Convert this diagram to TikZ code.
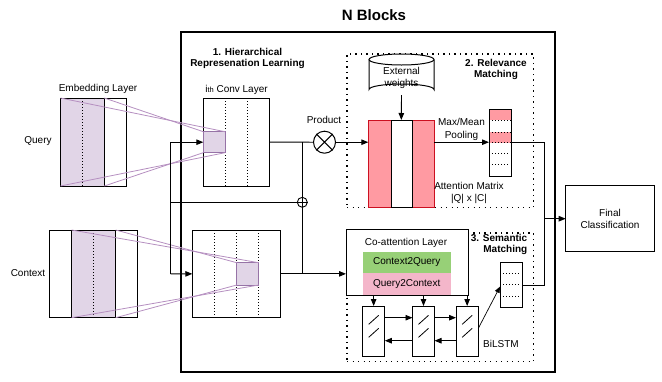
\documentclass[tikz,border=0pt]{standalone}
\usepackage{fontspec}
\setmainfont{Liberation Sans}
\usetikzlibrary{arrows.meta,calc}
\definecolor{purp}{HTML}{E1D5E7}
\definecolor{purpline}{HTML}{B58FC0}
\definecolor{purpdark}{HTML}{9673A6}
\definecolor{redfill}{HTML}{FF9AA2}
\definecolor{redline}{HTML}{CC1020}
\definecolor{greenfill}{HTML}{97D077}
\definecolor{pinkfill}{HTML}{F4B6CA}
\begin{document}
\begin{tikzpicture}[x=1pt,y=-1pt,
  lbl/.style={font=\fontsize{10}{12.5}\selectfont, inner sep=0, align=center},
  bl/.style={font=\bfseries\fontsize{10}{11.5}\selectfont, inner sep=0, align=center},
  rect/.style={anchor=north west, inner sep=0, outer sep=0},
  solid box/.style={rect, draw, line width=1pt},
  arr/.style={-{Triangle[length=7pt,width=5.5pt]}, line width=0.9pt},
  thin arr/.style={-{Triangle[length=6pt,width=5pt]}, line width=0.7pt},
  conn/.style={line width=0.9pt},
  bigdots/.style={line width=1.2pt, dash pattern=on 1.3pt off 4.2pt},
  finedots/.style={line width=0.8pt, dash pattern=on 1pt off 2pt},
  projline/.style={purpline, line width=0.8pt},
  cellstroke/.style={line width=0.8pt}]
\useasboundingbox (0,0) rectangle (662,381);

% title
\node[font=\bfseries\fontsize{15}{17}\selectfont, inner sep=0] (title) at (374,15) {N Blocks};

% big N-blocks box
\node[solid box, line width=1.2pt, minimum width=374pt, minimum height=340pt] (nblk) at (181,32) {};

% ---------- embedding layers ----------
\node[lbl] (emblbl) at (98,89) {Embedding Layer};
\node[rect, fill=purp, minimum width=43.8pt, minimum height=88pt] (qshade) at (60.5,98) {};
\node[solid box, minimum width=66pt, minimum height=88pt] (qemb) at (60.5,98) {};
\draw[line width=1pt] (104.3,98) -- (104.3,186);
\draw[finedots] (82.7,98) -- (82.7,186);
\node[lbl] (qlbl) at (38,141) {Query};

\node[rect, fill=purp, minimum width=44pt, minimum height=87.7pt] (cshade) at (71.7,230) {};
\node[solid box, minimum width=88pt, minimum height=87.7pt] (cemb) at (49.3,230) {};
\draw[line width=1pt] (71.7,230) -- (71.7,317.7);
\draw[line width=1pt] (115.7,230) -- (115.7,317.7);
\draw[finedots] (93.3,230) -- (93.3,317.7);
\node[lbl] (clbl) at (28,273) {Context};

% ---------- conv layers ----------
\node[bl] (hrl) at (247.5,58.5) {1. Hierarchical\\Represenation Learning};
\node[lbl] (convlbl) at (236.5,90) {i{\fontsize{7.5}{8}\selectfont th} Conv Layer};
\node[solid box, minimum width=66pt, minimum height=87.7pt] (qconv) at (203.3,98.3) {};
\draw[finedots] (225,98.3) -- (225,186);
\draw[finedots] (247.3,98.3) -- (247.3,186);
\node[rect, fill=purp, draw=purpdark, line width=0.8pt, minimum width=21.7pt, minimum height=21pt] (qsq) at (203.3,131.7) {};

\node[solid box, minimum width=88.4pt, minimum height=87.7pt] (cconv) at (192.3,230) {};
\draw[finedots] (214.3,230) -- (214.3,317.7);
\draw[finedots] (236.7,230) -- (236.7,317.7);
\draw[finedots] (258.7,230) -- (258.7,317.7);
\node[rect, fill=purp, draw=purpdark, line width=0.8pt, minimum width=22pt, minimum height=22.3pt] (csq) at (236.7,262.7) {};

% projection lines
\draw[projline] (qshade.north west) -- (qsq.north east);
\draw[projline] (qshade.north east) -- (qsq.north west);
\draw[projline] (qshade.south west) -- (qsq.south east);
\draw[projline] (qshade.south east) -- (qsq.south west);
\draw[projline] (cshade.north west) -- (csq.north east);
\draw[projline] (cshade.north east) -- (csq.north west);
\draw[projline] (cshade.south west) -- (csq.south east);
\draw[projline] (cshade.south east) -- (csq.south west);

% ---------- residual / product connectors ----------
\coordinate (lt) at (170.7,142.2);
\coordinate (lb) at (170.7,273.9);
\node[circle, draw, line width=0.9pt, minimum size=10pt, inner sep=0] (plus) at (302.3,202.3) {};
\draw[line width=0.9pt] (plus.north) -- (plus.south) (plus.west) -- (plus.east);
\node[circle, draw, line width=1pt, minimum size=22pt, inner sep=0] (otimes) at (324.5,142.2) {};
\draw[line width=1pt] (otimes.north west) -- (otimes.south east) (otimes.north east) -- (otimes.south west);
\node[lbl] (prodlbl) at (324,119.5) {Product};

\draw[conn] (lt) -- (lb);
\draw[arr] (lt) -- (qsq.west);
\draw[arr] (lb) -- (cconv.west);
\draw[conn] (lt |- plus) -- (plus.west);
\draw[conn] (qconv.east) -- (otimes.west);
\draw[conn] (qconv.east -| plus) -- (plus.north);
\draw[conn] (plus.south) -- (cconv.east -| plus);

% ---------- relevance matching ----------
\node[rect, draw, bigdots, minimum width=186.5pt, minimum height=153.7pt] (rel) at (347,54) {};
\node[bl] (rellbl) at (496,69.5) {2. Relevance\\Matching};
% cylinder
\draw[line width=1pt, fill=white] (369,59.5) -- (369,89.5) arc[start angle=180, end angle=360, x radius=32.5pt, y radius=-5.5pt] -- (434,59.5);
\draw[line width=1pt, fill=white] (401.5,59.5) ellipse[x radius=32.5pt, y radius=5.5pt];
\node[lbl] (ext) at (401.5,78) {External\\weights};
\coordinate (extb) at (401.5,95);

\node[rect, fill=redfill, minimum width=66pt, minimum height=87.7pt] (mat) at (368.3,120) {};
\fill[white] (391,120) rectangle (412,207.7);
\draw[redline, line width=1pt] (mat.north west) rectangle (mat.south east);
\draw[black, line width=1pt] (391,120) -- (391,207.7) (412,120) -- (412,207.7) (391,120) -- (412,120) (391,207.7) -- (412,207.7);
\draw[arr] (extb) -- (mat.north);
\draw[arr] (otimes.east) -- (mat.west |- otimes);
\node[lbl] (attlbl) at (469,193) {Attention Matrix\\|Q| x |C|};

\node[rect, minimum width=22.7pt, minimum height=67pt] (pool) at (489,109) {};
\fill[redfill] (489,109) rectangle (511.7,120.3);
\fill[redfill] (489,132) rectangle (511.7,142.7);
\draw[finedots, line width=0.6pt] (489,120.3) -- (511.7,120.3) (489,132) -- (511.7,132) (489,142.7) -- (511.7,142.7);
\draw[finedots, line width=0.6pt] (492,153.3) -- (508.5,153.3) (492,164.3) -- (508.5,164.3);
\draw[line width=1pt] (pool.north west) rectangle (pool.south east);
\node[lbl] (poollbl) at (461.5,129.5) {Max/Mean\\Pooling};
\draw[arr] (mat.east |- otimes) -- (pool.west |- otimes);

% ---------- semantic matching ----------
\node[rect, draw, bigdots, minimum width=186.5pt, minimum height=128.7pt] (sem) at (347,233) {};
\node[bl, align=right, anchor=north east] (semlbl) at (527.5,234) {3. Semantic\\Matching};
\node[solid box, fill=white, minimum width=122.3pt, minimum height=66pt] (coatt) at (346,229) {};
\node[lbl] (coattlbl) at (406,243.3) {Co-attention Layer};
\node[rect, fill=greenfill, minimum width=88pt, minimum height=21.6pt] (c2q) at (362.7,251.7) {};
\node[lbl] at (c2q.center) {Context2Query};
\node[rect, fill=pinkfill, minimum width=88pt, minimum height=21.7pt] (q2c) at (362.7,273.3) {};
\node[lbl] at (q2c.center) {Query2Context};
\draw[arr] (cconv.east) -- (coatt.west |- cconv.east);

\node[solid box, minimum width=22.3pt, minimum height=50.7pt] (c1) at (362.5,306) {};
\node[solid box, minimum width=22pt, minimum height=50.7pt] (c2) at (412.5,306) {};
\node[solid box, minimum width=22.3pt, minimum height=50.7pt] (c3) at (456,306) {};
\foreach \c in {c1,c2,c3}{
  \draw[cellstroke] ($(\c.center)+(-5,-7)$) -- ($(\c.center)+(5,-16)$);
  \draw[cellstroke] ($(\c.center)+(-5,6)$) -- ($(\c.center)+(5,-3)$);
}
\draw[arr] (c1.north |- coatt.south) -- (c1.north);
\draw[arr] (c2.north |- coatt.south) -- (c2.north);
\draw[arr] (c3.north |- coatt.south) -- (c3.north);
\draw[arr] ($(c1.north east)+(0,11.7)$) -- ($(c2.north west)+(0,11.7)$);
\draw[arr] ($(c2.north east)+(0,11.7)$) -- ($(c3.north west)+(0,11.7)$);
\draw[arr] ($(c2.north west)+(0,34.7)$) -- ($(c1.north east)+(0,34.7)$);
\draw[arr] ($(c3.north west)+(0,34.7)$) -- ($(c2.north east)+(0,34.7)$);
\node[lbl] (bilstm) at (501,344) {BiLSTM};

\node[rect, draw, line width=1pt, minimum width=22.3pt, minimum height=44.6pt] (svec) at (500,262.7) {};
\draw[finedots, line width=0.6pt] (503,273.3) -- (519.5,273.3) (503,284.7) -- (519.5,284.7) (503,296) -- (519.5,296);
\draw[thin arr] ($(c3.east)+(0,-3)$) -- ($(svec.west)+(0,1.7)$);

% ---------- final ----------
\node[solid box, minimum width=88.6pt, minimum height=66pt] (final) at (565.7,185.7) {};
\node[lbl] at (final.center) {Final\\Classification};
\coordinate (jr) at (544,218.7);
\draw[conn] (pool.east |- otimes) -- (jr |- otimes) -- (jr |- svec.east) -- (svec.east);
\draw[arr] (jr) -- (final.west);
\end{tikzpicture}
\end{document}
